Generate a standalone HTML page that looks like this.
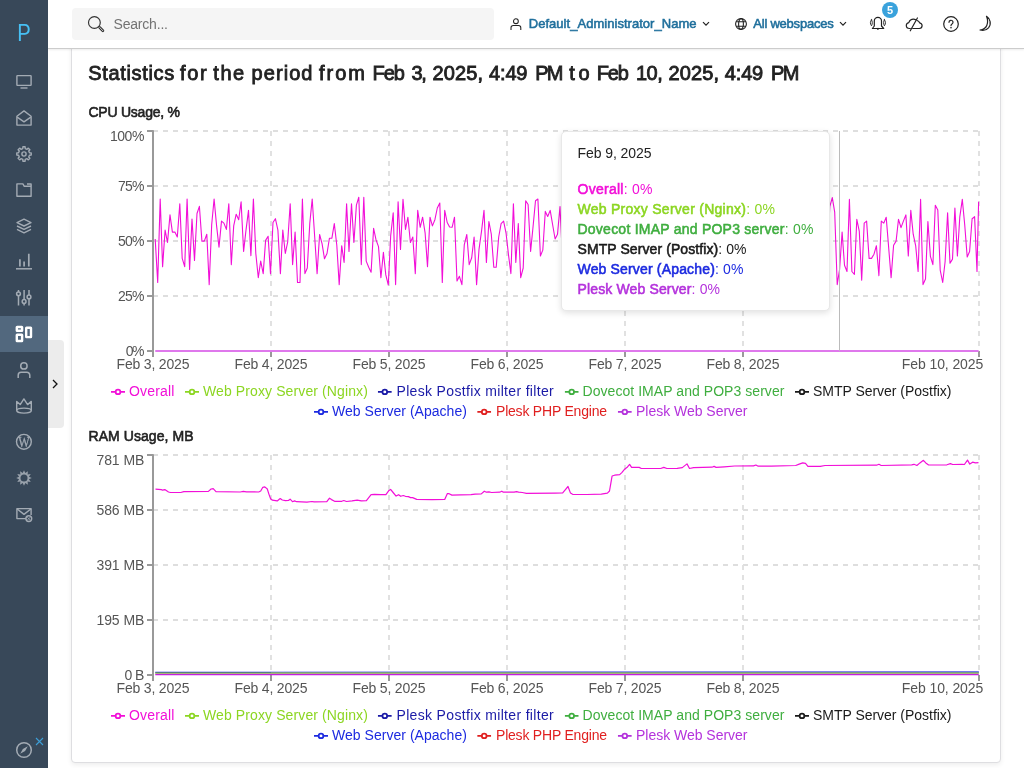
<!DOCTYPE html>
<html lang="en"><head><meta charset="utf-8"><title>Statistics</title>
<style>
html,body{margin:0;padding:0}
body{width:1024px;height:768px;overflow:hidden;background:#fff;position:relative;font-family:"Liberation Sans", sans-serif;}
.t{position:absolute;white-space:nowrap;}
.t b{font-weight:400;-webkit-text-stroke:0.55px currentColor}
.ico{position:absolute;overflow:visible}
.sidebar{position:absolute;left:0;top:0;width:48px;height:768px;background:#384859}
.sb-active{position:absolute;left:0;width:48px;height:36px;background:#52687e}
.logo{position:absolute;left:0;top:18.100px;width:48px;text-align:center;font-size:23px;line-height:30px;color:#47c0f4;font-weight:400;transform:scaleX(.88)}
.toggle{position:absolute;left:48px;top:340px;width:16px;height:88px;background:#ececec;border-radius:0 4px 4px 0}
.header{position:absolute;left:48px;top:0;width:976px;height:48px;background:#fff;border-bottom:1px solid #ccc;box-sizing:content-box;box-shadow:0 1px 2px rgba(0,0,0,.08)}
.search{position:absolute;left:72px;top:8px;width:422px;height:32px;background:#f5f5f5;border-radius:4px}
.card{position:absolute;left:71px;top:40px;width:930px;height:723px;background:#fff;border:1px solid #dedee1;border-radius:4px;box-sizing:border-box;box-shadow:0 2px 5px rgba(0,0,0,.07)}
.charts{position:absolute;left:0;top:0}
.tooltip{position:absolute;left:560.500px;top:130.500px;width:269px;height:180.500px;box-sizing:border-box;background:#fff;border:1px solid #e8e8e8;border-radius:5px;box-shadow:0 2px 6px rgba(0,0,0,.12)}
.badge{position:absolute;left:882px;top:2px;width:16px;height:16px;border-radius:8px;background:#3aa2dc;color:#fff;font-size:11px;font-weight:700;line-height:16px;text-align:center}
</style></head>
<body>
<div class="card"></div>
<svg class="charts" width="1024" height="768" viewBox="0 0 1024 768"><path d="M153 131.00H979M153 186.00H979M153 241.00H979M153 296.00H979M271.00 131.00V351.00M389.00 131.00V351.00M507.00 131.00V351.00M625.00 131.00V351.00M743.00 131.00V351.00M979.00 131.00V351.00" stroke="#dedede" stroke-width="1.8" stroke-dasharray="5 5" fill="none"/>
<path d="M153 130.25V357.00" stroke="#999" stroke-width="2" fill="none"/>
<path d="M147 131.00H153M147 186.00H153M147 241.00H153M147 296.00H153M147 351.00H153M271.00 351.00V357.00M389.00 351.00V357.00M507.00 351.00V357.00M625.00 351.00V357.00M743.00 351.00V357.00M979.00 351.00V357.00" stroke="#999" stroke-width="2" fill="none"/>
<path d="M155.2 239.0L157.7 282.5L160.2 199.0L162.6 266.7L165.1 230.1L167.5 242.5L170.0 214.9L172.4 232.1L174.9 232.1L177.3 237.0L179.8 203.8L182.2 258.4L184.7 266.7L187.1 199.0L189.6 269.4L192.0 219.0L194.5 260.4L197.0 213.5L199.4 206.3L201.9 241.1L204.3 241.1L206.8 234.2L209.2 284.6L211.7 224.5L214.1 199.0L216.6 225.9L219.0 247.3L221.5 221.1L223.9 223.1L226.4 229.4L228.8 203.8L231.3 264.6L233.7 225.9L236.2 214.2L238.7 219.7L241.1 201.7L243.6 251.5L246.0 230.1L248.5 210.4L250.9 255.6L253.4 199.0L255.8 253.5L258.3 277.7L260.7 261.1L263.2 273.6L265.6 240.4L268.1 236.3L270.5 273.6L273.0 222.5L275.4 218.7L277.9 230.1L280.4 273.6L282.8 230.1L285.3 253.5L287.7 241.8L290.2 203.8L292.6 264.6L295.1 232.1L297.5 282.5L300.0 282.5L302.4 199.0L304.9 273.6L307.3 268.0L309.8 223.1L312.2 199.0L314.7 237.0L317.1 273.6L319.6 234.5L322.1 243.9L324.5 258.8L327.0 253.5L329.4 238.3L331.9 238.1L334.3 223.6L336.8 245.2L339.2 284.6L341.7 245.7L344.1 262.5L346.6 203.8L349.0 251.5L351.5 203.8L353.9 242.5L356.4 205.2L358.8 197.2L361.3 264.6L363.8 197.2L366.2 261.1L368.7 267.3L371.1 272.2L373.6 228.4L376.0 239.7L378.5 246.6L380.9 277.7L383.4 252.4L385.8 274.9L388.3 285.0L390.7 235.6L393.2 212.8L395.6 284.6L398.1 201.7L400.5 249.4L403.0 199.4L405.5 229.4L407.9 217.2L410.4 242.5L412.8 237.0L415.3 273.6L417.7 210.4L420.2 227.3L422.6 217.2L425.1 232.8L427.5 266.7L430.0 217.2L432.4 225.9L434.9 219.7L437.3 208.0L439.8 203.1L442.3 282.5L444.7 210.4L447.2 222.5L449.6 227.0L452.1 227.3L454.5 217.2L457.0 280.9L459.4 276.3L461.9 284.6L464.3 244.6L466.8 234.5L469.2 264.6L471.7 257.7L474.1 237.0L476.6 284.6L479.0 249.4L481.5 231.4L484.0 210.4L486.4 262.5L488.9 221.5L491.3 234.2L493.8 267.3L496.2 267.3L498.7 237.0L501.1 223.6L503.6 221.1L506.0 232.8L508.5 254.9L510.9 273.6L513.4 203.8L515.8 262.5L518.3 223.6L520.7 277.7L523.2 268.0L525.7 200.8L528.1 204.5L530.6 251.5L533.0 227.3L535.5 200.8L537.9 199.0L540.4 256.0L542.8 250.1L545.3 211.4L547.7 216.5L550.2 210.4L552.6 224.5L555.1 239.0L557.5 234.2L560.0 206.6L562.4 256.7L564.9 271.6L567.4 228.6L569.8 278.3L572.3 238.5L574.7 253.1L577.2 279.5L579.6 241.0L582.1 281.3L584.5 247.3L587.0 278.5L589.4 276.7L591.9 248.1L594.3 213.6L596.8 273.9L599.2 265.3L601.7 230.7L604.1 203.2L606.6 235.0L609.1 250.5L611.5 200.7L614.0 280.5L616.4 210.8L618.9 259.7L621.3 272.1L623.8 274.4L626.2 258.0L628.7 214.5L631.1 269.0L633.6 234.6L636.0 229.7L638.5 252.5L640.9 237.5L643.4 279.1L645.8 279.4L648.3 266.8L650.8 226.1L653.2 247.8L655.7 257.5L658.1 234.3L660.6 245.6L663.0 258.8L665.5 216.3L667.9 224.5L670.4 263.6L672.8 235.2L675.3 239.4L677.7 209.4L680.2 221.9L682.6 259.8L685.1 200.4L687.6 274.4L690.0 248.6L692.5 219.5L694.9 271.5L697.4 242.5L699.8 281.1L702.3 227.2L704.7 218.9L707.2 235.3L709.6 209.4L712.1 257.6L714.5 224.8L717.0 233.5L719.4 234.7L721.9 245.4L724.3 212.4L726.8 203.4L729.3 243.8L731.7 227.5L734.2 279.3L736.6 224.3L739.1 229.0L741.5 199.3L744.0 214.0L746.4 260.1L748.9 251.4L751.3 227.1L753.8 282.6L756.2 244.9L758.7 270.1L761.1 274.5L763.6 279.4L766.0 218.6L768.5 273.4L771.0 263.3L773.4 251.0L775.9 209.7L778.3 277.6L780.8 246.0L783.2 237.4L785.7 208.7L788.1 214.2L790.6 210.4L793.0 260.6L795.5 248.9L797.9 253.7L800.4 208.6L802.8 202.3L805.3 271.6L807.7 269.4L810.2 264.6L812.7 264.5L815.1 242.9L817.6 234.0L820.0 262.0L822.5 284.1L824.9 248.6L827.4 252.8L829.8 206.6L832.3 197.6L834.7 212.1L837.2 284.6L839.6 269.4L842.1 232.1L844.5 265.3L847.0 271.5L849.4 199.4L851.9 271.5L854.4 274.3L856.8 219.3L859.3 231.4L861.7 280.1L864.2 223.1L866.6 221.1L869.1 258.4L871.5 258.4L874.0 254.2L876.4 245.7L878.9 275.6L881.3 221.1L883.8 223.1L886.2 217.2L888.7 248.0L891.1 277.7L893.6 245.2L896.1 241.1L898.5 219.3L901.0 227.6L903.4 221.1L905.9 214.9L908.3 256.0L910.8 210.4L913.2 234.2L915.7 245.9L918.1 271.5L920.6 199.4L923.0 284.6L925.5 279.1L927.9 221.5L930.4 256.3L932.9 264.6L935.3 205.2L937.8 210.0L940.2 270.1L942.7 282.5L945.1 261.8L947.6 212.8L950.0 263.2L952.5 259.1L954.9 208.0L957.4 256.0L959.8 216.9L962.3 199.4L964.7 224.5L967.2 257.0L969.6 251.5L972.1 218.7L974.6 216.7L977.0 271.5L978.6 201.7" stroke="#f20fd8" stroke-width="1.1" fill="none" stroke-linejoin="round"/>
<path d="M155.25 351H978.6" stroke="#df78ec" stroke-width="2" fill="none"/>
<path d="M839.5 131V351" stroke="#bbb" stroke-width="1" fill="none"/>
<path d="M153 455.00H979M153 510.00H979M153 565.00H979M153 620.00H979M271.00 455.00V675.00M389.00 455.00V675.00M507.00 455.00V675.00M625.00 455.00V675.00M743.00 455.00V675.00M979.00 455.00V675.00" stroke="#dedede" stroke-width="1.8" stroke-dasharray="5 5" fill="none"/>
<path d="M153 454.25V681.00" stroke="#999" stroke-width="2" fill="none"/>
<path d="M147 455.00H153M147 510.00H153M147 565.00H153M147 620.00H153M147 675.00H153M271.00 675.00V681.00M389.00 675.00V681.00M507.00 675.00V681.00M625.00 675.00V681.00M743.00 675.00V681.00M979.00 675.00V681.00" stroke="#999" stroke-width="2" fill="none"/>
<path d="M155.5 489.2L161.3 489.6L162.7 490.2L164.8 489.6L168.5 492.0L170.5 492.5L180.8 492.5L183.8 491.6L208.4 491.4L211.1 489.0L213.2 488.6L216.0 491.6L240.2 492.0L243.3 491.4L246.4 491.8L258.7 492.0L260.7 491.0L262.8 487.3L264.8 486.9L267.3 489.0L268.9 494.1L270.6 498.8L272.4 500.2L277.2 500.9L280.2 498.6L282.3 500.0L285.4 500.7L288.4 500.5L290.1 499.2L292.5 501.7L294.6 500.9L296.6 501.7L306.9 502.1L312.0 501.5L314.1 501.9L326.8 501.7L329.5 498.2L331.5 499.6L334.6 501.3L341.8 501.3L343.8 500.5L346.5 501.5L352.0 500.9L357.2 500.2L361.3 500.9L366.4 500.7L371.1 494.7L374.6 494.3L380.8 494.7L385.9 494.7L389.0 490.4L390.6 489.4L393.1 492.5L396.1 496.1L398.6 494.7L400.7 496.3L403.3 495.5L405.4 496.3L408.4 496.6L410.5 497.6L412.6 497.6L416.7 499.4L432.0 499.6L444.7 499.4L447.4 493.5L449.1 493.7L451.9 495.1L460.7 494.9L471.0 494.7L475.1 494.1L481.3 493.9L484.3 491.2L486.4 492.2L489.0 491.8L491.5 492.5L499.7 492.2L501.8 491.2L503.4 492.2L514.1 492.2L516.5 491.6L518.6 492.2L522.3 492.5L526.4 493.3L555.1 493.1L562.7 492.9L565.4 489.6L568.0 486.5L570.5 493.1L572.6 494.3L586.9 494.5L601.3 494.1L607.4 493.1L609.5 491.0L610.9 482.8L612.1 476.0L614.6 475.2L619.7 474.6L621.8 472.6L624.9 468.9L626.9 467.6L629.6 464.4L631.6 467.4L639.2 467.4L641.3 468.5L660.7 468.5L663.8 467.4L666.9 468.5L677.2 468.3L682.3 467.6L687.0 463.9L689.5 468.5L693.6 467.6L712.0 467.2L714.1 466.4L716.1 467.4L724.3 466.8L734.6 466.0L753.0 465.8L753.5 465.9L755.9 465.0L758.2 466.2L771.1 466.2L795.7 465.5L799.2 464.1L802.7 462.9L805.5 463.4L807.9 466.4L820.3 466.4L825.0 465.5L876.6 465.2L878.9 464.3L881.2 465.5L911.7 464.8L914.0 464.3L916.9 465.5L919.9 462.9L923.4 460.3L925.8 462.9L928.6 465.0L946.9 464.8L950.4 463.6L952.7 464.5L962.1 464.3L964.4 464.5L967.5 460.1L969.8 464.1L972.6 462.2L975.5 462.9L978.5 462.7" stroke="#f20fd8" stroke-width="1.2" fill="none" stroke-linejoin="round"/>
<path d="M155.25 672.4H978.8" stroke="#2020e8" stroke-width="1.2" fill="none"/>
<path d="M271 671.9L978.8 670.9V672.7H271Z" fill="#7676ee"/>
<path d="M155.25 673.15H978.8" stroke="#84e01e" stroke-width="1.1" fill="none"/>
<path d="M155.25 674.45H978.8" stroke="#c21ee0" stroke-width="1.5" fill="none"/>
<svg x="111.00" y="384.90" width="14" height="14" viewBox="0 0 32 32"><path stroke-width="4" fill="none" stroke="#f20fd8" d="M0,16h10.666666666666666A5.333333333333333,5.333333333333333,0,1,1,21.333333333333332,16H32M21.333333333333332,16A5.333333333333333,5.333333333333333,0,1,1,10.666666666666666,16"/></svg>
<svg x="185.00" y="384.90" width="14" height="14" viewBox="0 0 32 32"><path stroke-width="4" fill="none" stroke="#8cd622" d="M0,16h10.666666666666666A5.333333333333333,5.333333333333333,0,1,1,21.333333333333332,16H32M21.333333333333332,16A5.333333333333333,5.333333333333333,0,1,1,10.666666666666666,16"/></svg>
<svg x="377.80" y="384.90" width="14" height="14" viewBox="0 0 32 32"><path stroke-width="4" fill="none" stroke="#1a1aa6" d="M0,16h10.666666666666666A5.333333333333333,5.333333333333333,0,1,1,21.333333333333332,16H32M21.333333333333332,16A5.333333333333333,5.333333333333333,0,1,1,10.666666666666666,16"/></svg>
<svg x="564.70" y="384.90" width="14" height="14" viewBox="0 0 32 32"><path stroke-width="4" fill="none" stroke="#3fae3f" d="M0,16h10.666666666666666A5.333333333333333,5.333333333333333,0,1,1,21.333333333333332,16H32M21.333333333333332,16A5.333333333333333,5.333333333333333,0,1,1,10.666666666666666,16"/></svg>
<svg x="795.00" y="384.90" width="14" height="14" viewBox="0 0 32 32"><path stroke-width="4" fill="none" stroke="#1a1a1a" d="M0,16h10.666666666666666A5.333333333333333,5.333333333333333,0,1,1,21.333333333333332,16H32M21.333333333333332,16A5.333333333333333,5.333333333333333,0,1,1,10.666666666666666,16"/></svg>
<svg x="314.00" y="404.90" width="14" height="14" viewBox="0 0 32 32"><path stroke-width="4" fill="none" stroke="#1c2ae0" d="M0,16h10.666666666666666A5.333333333333333,5.333333333333333,0,1,1,21.333333333333332,16H32M21.333333333333332,16A5.333333333333333,5.333333333333333,0,1,1,10.666666666666666,16"/></svg>
<svg x="477.20" y="404.90" width="14" height="14" viewBox="0 0 32 32"><path stroke-width="4" fill="none" stroke="#e01f1f" d="M0,16h10.666666666666666A5.333333333333333,5.333333333333333,0,1,1,21.333333333333332,16H32M21.333333333333332,16A5.333333333333333,5.333333333333333,0,1,1,10.666666666666666,16"/></svg>
<svg x="617.80" y="404.90" width="14" height="14" viewBox="0 0 32 32"><path stroke-width="4" fill="none" stroke="#b432dc" d="M0,16h10.666666666666666A5.333333333333333,5.333333333333333,0,1,1,21.333333333333332,16H32M21.333333333333332,16A5.333333333333333,5.333333333333333,0,1,1,10.666666666666666,16"/></svg>
<svg x="111.00" y="708.90" width="14" height="14" viewBox="0 0 32 32"><path stroke-width="4" fill="none" stroke="#f20fd8" d="M0,16h10.666666666666666A5.333333333333333,5.333333333333333,0,1,1,21.333333333333332,16H32M21.333333333333332,16A5.333333333333333,5.333333333333333,0,1,1,10.666666666666666,16"/></svg>
<svg x="185.00" y="708.90" width="14" height="14" viewBox="0 0 32 32"><path stroke-width="4" fill="none" stroke="#8cd622" d="M0,16h10.666666666666666A5.333333333333333,5.333333333333333,0,1,1,21.333333333333332,16H32M21.333333333333332,16A5.333333333333333,5.333333333333333,0,1,1,10.666666666666666,16"/></svg>
<svg x="377.80" y="708.90" width="14" height="14" viewBox="0 0 32 32"><path stroke-width="4" fill="none" stroke="#1a1aa6" d="M0,16h10.666666666666666A5.333333333333333,5.333333333333333,0,1,1,21.333333333333332,16H32M21.333333333333332,16A5.333333333333333,5.333333333333333,0,1,1,10.666666666666666,16"/></svg>
<svg x="564.70" y="708.90" width="14" height="14" viewBox="0 0 32 32"><path stroke-width="4" fill="none" stroke="#3fae3f" d="M0,16h10.666666666666666A5.333333333333333,5.333333333333333,0,1,1,21.333333333333332,16H32M21.333333333333332,16A5.333333333333333,5.333333333333333,0,1,1,10.666666666666666,16"/></svg>
<svg x="795.00" y="708.90" width="14" height="14" viewBox="0 0 32 32"><path stroke-width="4" fill="none" stroke="#1a1a1a" d="M0,16h10.666666666666666A5.333333333333333,5.333333333333333,0,1,1,21.333333333333332,16H32M21.333333333333332,16A5.333333333333333,5.333333333333333,0,1,1,10.666666666666666,16"/></svg>
<svg x="314.00" y="728.90" width="14" height="14" viewBox="0 0 32 32"><path stroke-width="4" fill="none" stroke="#1c2ae0" d="M0,16h10.666666666666666A5.333333333333333,5.333333333333333,0,1,1,21.333333333333332,16H32M21.333333333333332,16A5.333333333333333,5.333333333333333,0,1,1,10.666666666666666,16"/></svg>
<svg x="477.20" y="728.90" width="14" height="14" viewBox="0 0 32 32"><path stroke-width="4" fill="none" stroke="#e01f1f" d="M0,16h10.666666666666666A5.333333333333333,5.333333333333333,0,1,1,21.333333333333332,16H32M21.333333333333332,16A5.333333333333333,5.333333333333333,0,1,1,10.666666666666666,16"/></svg>
<svg x="617.80" y="728.90" width="14" height="14" viewBox="0 0 32 32"><path stroke-width="4" fill="none" stroke="#b432dc" d="M0,16h10.666666666666666A5.333333333333333,5.333333333333333,0,1,1,21.333333333333332,16H32M21.333333333333332,16A5.333333333333333,5.333333333333333,0,1,1,10.666666666666666,16"/></svg></svg>
<div class="tooltip"></div>
<div class="header"></div>
<div class="search"></div>

<svg class="ico" style="left:86px;top:15px" width="20" height="18" viewBox="0 0 20 18" fill="none" stroke="#333" stroke-width="1.3"><circle cx="8.400" cy="7.500" r="5.900" stroke-width="1.150"/><path d="M13.700 12.500l3.200 3.300" stroke-width="2.700" stroke-linecap="round"/><path d="M13.700 12.500l3.200 3.300" stroke="#f5f5f5" stroke-width=".800" stroke-linecap="round"/></svg>
<svg class="ico" style="left:510px;top:17.500px" width="12" height="12" viewBox="0 0 12 12" fill="none" stroke="#222" stroke-width="1.050"><circle cx="5.900" cy="3.200" r="2.400"/><path d="M1 12v-2.200a2.300 2.300 0 0 1 2.300-2.300h5.200a2.300 2.300 0 0 1 2.300 2.300V12"/></svg>
<svg class="ico" style="left:702px;top:21px" width="8" height="6" viewBox="0 0 8 6" fill="none" stroke="#222" stroke-width="1.200"><path d="M1 1.200l3 3 3-3"/></svg>
<svg class="ico" style="left:734.700px;top:17.700px" width="12" height="12" viewBox="0 0 12 12" fill="none" stroke="#222" stroke-width="1.100"><circle cx="6" cy="6" r="5.400"/><ellipse cx="6" cy="6" rx="2.400" ry="5.400"/><path d="M1.300 3.800h9.400M1.300 8.200h9.400"/></svg>
<svg class="ico" style="left:839px;top:21px" width="8" height="6" viewBox="0 0 8 6" fill="none" stroke="#222" stroke-width="1.200"><path d="M1 1.200l3 3 3-3"/></svg>
<svg class="ico" style="left:870px;top:16px" width="16" height="16" viewBox="0 0 16 16" fill="none" stroke="#222" stroke-width="1.200" stroke-linecap="round"><path d="M2.400 12.500L4.300 10V5a3.600 3.600 0 0 1 7.200 0v5l2.200 2.500z" stroke-linejoin="round"/><path d="M6.900 12.700l1 1.100 1-1.100z" fill="#222" stroke-width=".6"/><path d="M1.500 3.700C0 5.700 0 7.800 1.500 9.800 2.600 7.800 2.600 5.700 1.500 3.700zM14.400 3.700c1.500 2 1.500 4.100 0 6.100-1.100-2-1.100-4.100 0-6.100z" stroke-width=".9" stroke-linejoin="round"/></svg>
<svg class="ico" style="left:906px;top:16px" width="17" height="16" viewBox="0 0 17 16" fill="none" stroke="#222" stroke-width="1.200" stroke-linecap="round" stroke-linejoin="round"><path d="M4.300 12.500H3.500C1.600 12.500.3 11.200.3 9.600.3 8 1.400 6.900 2.800 6.600 3.600 4.600 5.400 3.200 7.400 3.200c.9 0 1.700.2 2.400.6M11.100 4.500c1.200.5 2.100 1.300 2.500 2.300 1.600.4 2.500 1.500 2.500 2.800 0 1.600-1.300 2.900-2.800 2.900H6.700"/><path d="M11.400 2L4.300 14.800"/></svg>
<svg class="ico" style="left:942.500px;top:16px" width="16" height="16" viewBox="0 0 16 16" fill="none" stroke="#222" stroke-width="1.200"><circle cx="8" cy="8" r="7.300"/><path d="M6 6.300a2 2 0 1 1 3 1.700c-.700.400-1 .800-1 1.600" stroke-linecap="round"/><circle cx="8" cy="11.700" r=".5" fill="#222" stroke-width=".6"/></svg>
<svg class="ico" style="left:978px;top:15px" width="16" height="17" viewBox="0 0 16 17" fill="none" stroke="#222" stroke-width="1.200" stroke-linejoin="round"><path d="M8.500 1.300c3.500 2.300 5.300 7.500 2 11.500-2 2.300-5.500 3-8.500 2.200 2.800-.3 5.500-1.500 6.800-4.500 1.200-2.800.9-6.200-.3-9.200z"/></svg>

<div class="badge">5</div>
<div class="sidebar">
<div class="logo">P</div>
<svg class="ico" style="left:16px;top:74px" width="16" height="16" viewBox="0 0 16 16" fill="none" stroke="#a3abb4" stroke-width="1.4" stroke-linejoin="round"><rect x="0.9" y="1.6" width="14.2" height="9.8" rx="0.6"/><path d="M4.5 14h7"/></svg>
<svg class="ico" style="left:16px;top:110px" width="16" height="16" viewBox="0 0 16 16" fill="none" stroke="#a3abb4" stroke-width="1.4" stroke-linejoin="round"><path d="M0.9 6.2L8 0.9l7.1 5.3v8.9H0.9z"/><path d="M1.2 7.2L8 11.8l6.8-4.6"/></svg>
<svg class="ico" style="left:16px;top:146px" width="16" height="16" viewBox="0 0 16 16" fill="none" stroke="#a3abb4" stroke-width="1.4" stroke-linejoin="round"><path d="M6.80 2.53L6.90 0.78L9.10 0.78L9.20 2.53L11.02 3.28L12.33 2.12L13.88 3.67L12.72 4.98L13.47 6.80L15.22 6.90L15.22 9.10L13.47 9.20L12.72 11.02L13.88 12.33L12.33 13.88L11.02 12.72L9.20 13.47L9.10 15.22L6.90 15.22L6.80 13.47L4.98 12.72L3.67 13.88L2.12 12.33L3.28 11.02L2.53 9.20L0.78 9.10L0.78 6.90L2.53 6.80L3.28 4.98L2.12 3.67L3.67 2.12L4.98 3.28Z"/><circle cx="8" cy="8" r="2.1"/></svg>
<svg class="ico" style="left:16px;top:182px" width="16" height="16" viewBox="0 0 16 16" fill="none" stroke="#a3abb4" stroke-width="1.4" stroke-linejoin="round"><path d="M0.9 1.9h6l1.4 2.4h6.8v10H0.9z"/><path d="M11 2h4.1v2.3" /></svg>
<svg class="ico" style="left:16px;top:218px" width="16" height="16" viewBox="0 0 16 16" fill="none" stroke="#a3abb4" stroke-width="1.4" stroke-linejoin="round"><path d="M8 1.2l7 3.4-7 3.4-7-3.4z"/><path d="M1 8l7 3.4L15 8M1 11.4l7 3.4 7-3.4"/></svg>
<svg class="ico" style="left:16px;top:254px" width="16" height="16" viewBox="0 0 16 16" fill="none" stroke="#a3abb4" stroke-width="1.4" stroke-linejoin="round"><path d="M0 14.8h16" stroke-width="1.5"/><path d="M3.9 5.200v7.300M8.100 7.500v5M12.800 -0.200v12.700" stroke-width="1.700"/></svg>
<svg class="ico" style="left:16px;top:290px" width="16" height="16" viewBox="0 0 16 16" fill="none" stroke="#a3abb4" stroke-width="1.4" stroke-linejoin="round"><g stroke-width="1.500"><path d="M2.500 0v2M2.500 5.600v10M8.100 0v9.700M8.100 13.300v2.300M13 0v5.100M13 8.700v6.900"/><circle cx="2.500" cy="3.800" r="1.900"/><circle cx="8.100" cy="11.500" r="1.900"/><circle cx="13" cy="6.900" r="1.900"/></g></svg>
<div class="sb-active" style="top:316px"></div>
<svg class="ico" style="left:16px;top:326px" width="16" height="16" viewBox="0 0 16 16" fill="none" stroke="#fff" stroke-width="2.400"><rect x="0.800" y="1" width="5.300" height="3.800" rx=".3"/><rect x="0.800" y="8.800" width="5.300" height="6.200" rx=".3"/><rect x="10.200" y="1.800" width="4.800" height="9.300" rx=".3"/></svg>
<svg class="ico" style="left:16px;top:362px" width="16" height="16" viewBox="0 0 16 16" fill="none" stroke="#a3abb4" stroke-width="1.4" stroke-linejoin="round"><g stroke-width="1.500"><circle cx="7.900" cy="3.900" r="3.200"/><path d="M2.200 16v-2.800a2.900 2.900 0 0 1 2.900-2.900h5.800a2.900 2.900 0 0 1 2.900 2.900V16"/></g></svg>
<svg class="ico" style="left:16px;top:398px" width="16" height="16" viewBox="0 0 16 16" fill="none" stroke="#a3abb4" stroke-width="1.4" stroke-linejoin="round"><g stroke-width="1.400"><path d="M0.700 12.600V3.400L4.200 6.600 7.900 0.900l3.700 5.700 3.700-3.200v9.200"/><ellipse cx="8" cy="12.600" rx="7.300" ry="2.500"/></g></svg>
<svg class="ico" style="left:16px;top:434px" width="16" height="16" viewBox="0 0 16 16" fill="none" stroke="#a3abb4" stroke-width="1.4" stroke-linejoin="round"><circle cx="7.900" cy="7.800" r="7.400"/><text x="0" y="12.600" transform="translate(7.900 0) scale(.84 1)" text-anchor="middle" font-family="Liberation Serif, serif" font-size="14.500" stroke-width="0.300" fill="#a3abb4">W</text></svg>
<svg class="ico" style="left:16px;top:470px" width="16" height="16" viewBox="0 0 16 16" fill="none" stroke="#a3abb4" stroke-width="1.4" stroke-linejoin="round"><path d="M8.00 0.20L9.32 3.07L11.90 1.25L11.61 4.39L14.75 4.10L12.93 6.68L15.80 8.00L12.93 9.32L14.75 11.90L11.61 11.61L11.90 14.75L9.32 12.93L8.00 15.80L6.68 12.93L4.10 14.75L4.39 11.61L1.25 11.90L3.07 9.32L0.20 8.00L3.07 6.68L1.25 4.10L4.39 4.39L4.10 1.25L6.68 3.07Z" fill="#a3abb4" stroke="none" opacity="0.9"/><circle cx="8" cy="8" r="3.500" fill="#384859" stroke="none"/></svg>
<svg class="ico" style="left:16px;top:506px" width="16" height="16" viewBox="0 0 16 16" fill="none" stroke="#a3abb4" stroke-width="1.4" stroke-linejoin="round"><path d="M10 12.6H0.9V2.6h14.2v6.5"/><path d="M1.2 3l6.8 5.4L14.800 3"/><circle cx="12.8" cy="12.6" r="2.9" fill="#384859"/><path d="M11.3 14.1l3-3M11.3 11.100l3 3" stroke-width="0.8"/></svg>
<svg class="ico" style="left:16px;top:742px" width="16" height="16" viewBox="0 0 16 16" fill="none" stroke="#a3abb4" stroke-width="1.500"><circle cx="8" cy="8" r="7.300"/><path d="M11.800 4.200L9.100 9.100 4.200 11.800 6.900 6.900z" fill="#a3abb4" stroke="none"/></svg>
<svg class="ico" style="left:35px;top:737px" width="9" height="9" viewBox="0 0 9 9" fill="none" stroke="#3d9fd8" stroke-width="1.1"><path d="M1 1l7 7M8 1l-7 7"/></svg>
</div>
<div class="toggle"></div>
<svg class="ico" style="left:51px;top:379px" width="8" height="10" viewBox="0 0 8 10" fill="none" stroke="#111" stroke-width="1.300"><path d="M2 1l4 4-4 4"/></svg>
<span class="t" style="left:113.50px;top:14.15px;font-size:14px;line-height:20px;font-weight:400;color:#737373;letter-spacing:-0.191px">Search...</span>
<span class="t" style="left:528.75px;top:14.00px;font-size:13px;line-height:20px;font-weight:400;color:#1f6f9c;letter-spacing:0.034px;-webkit-text-stroke:0.55px #1f6f9c">Default_Administrator_Name</span>
<span class="t" style="left:753.30px;top:14.00px;font-size:13px;line-height:20px;font-weight:400;color:#1f6f9c;letter-spacing:-0.226px;-webkit-text-stroke:0.55px #1f6f9c">All webspaces</span>
<span class="t" style="left:88.25px;top:59.07px;font-size:20px;line-height:28px;font-weight:400;color:#222;letter-spacing:0.663px;-webkit-text-stroke:0.84px #222">Statistics </span>
<span class="t" style="left:180.00px;top:59.07px;font-size:20px;line-height:28px;font-weight:400;color:#222;letter-spacing:1.703px;-webkit-text-stroke:0.84px #222">for </span>
<span class="t" style="left:213.25px;top:59.07px;font-size:20px;line-height:28px;font-weight:400;color:#222;letter-spacing:1.594px;-webkit-text-stroke:0.84px #222">the </span>
<span class="t" style="left:251.50px;top:59.07px;font-size:20px;line-height:28px;font-weight:400;color:#222;letter-spacing:1.078px;-webkit-text-stroke:0.84px #222">period </span>
<span class="t" style="left:319.00px;top:59.07px;font-size:20px;line-height:28px;font-weight:400;color:#222;letter-spacing:2.000px;-webkit-text-stroke:0.84px #222">from </span>
<span class="t" style="left:372.50px;top:59.07px;font-size:20px;line-height:28px;font-weight:400;color:#222;letter-spacing:-0.984px;-webkit-text-stroke:0.84px #222">Feb </span>
<span class="t" style="left:411.50px;top:59.07px;font-size:20px;line-height:28px;font-weight:400;color:#222;letter-spacing:-1.438px;-webkit-text-stroke:0.84px #222">3, </span>
<span class="t" style="left:432.50px;top:59.07px;font-size:20px;line-height:28px;font-weight:400;color:#222;letter-spacing:0.109px;-webkit-text-stroke:0.84px #222">2025, </span>
<span class="t" style="left:489.00px;top:59.07px;font-size:20px;line-height:28px;font-weight:400;color:#222;letter-spacing:-0.146px;-webkit-text-stroke:0.84px #222">4:49 </span>
<span class="t" style="left:535.25px;top:59.07px;font-size:20px;line-height:28px;font-weight:400;color:#222;letter-spacing:-1.750px;-webkit-text-stroke:0.84px #222">PM </span>
<span class="t" style="left:569.25px;top:59.07px;font-size:20px;line-height:28px;font-weight:400;color:#222;letter-spacing:3.812px;-webkit-text-stroke:0.84px #222">to </span>
<span class="t" style="left:596.75px;top:59.07px;font-size:20px;line-height:28px;font-weight:400;color:#222;letter-spacing:-1.109px;-webkit-text-stroke:0.84px #222">Feb </span>
<span class="t" style="left:636.00px;top:59.07px;font-size:20px;line-height:28px;font-weight:400;color:#222;letter-spacing:-0.531px;-webkit-text-stroke:0.84px #222">10, </span>
<span class="t" style="left:668.50px;top:59.07px;font-size:20px;line-height:28px;font-weight:400;color:#222;letter-spacing:0.109px;-webkit-text-stroke:0.84px #222">2025, </span>
<span class="t" style="left:724.75px;top:59.07px;font-size:20px;line-height:28px;font-weight:400;color:#222;letter-spacing:-0.146px;-webkit-text-stroke:0.84px #222">4:49 </span>
<span class="t" style="left:771.00px;top:59.07px;font-size:20px;line-height:28px;font-weight:400;color:#222;letter-spacing:-1.500px;-webkit-text-stroke:0.84px #222">PM </span>
<span class="t" style="left:88.50px;top:102.15px;font-size:14px;line-height:20px;font-weight:400;color:#222;letter-spacing:-0.241px;-webkit-text-stroke:0.59px #222">CPU Usage, %</span>
<span class="t" style="left:88.50px;top:426.15px;font-size:14px;line-height:20px;font-weight:400;color:#222;letter-spacing:0.062px;-webkit-text-stroke:0.59px #222">RAM Usage, MB</span>
<span class="t" style="left:129.00px;top:380.85px;font-size:14px;line-height:20px;font-weight:400;color:#f20fd8;letter-spacing:0.173px">Overall</span>
<span class="t" style="left:203.00px;top:380.85px;font-size:14px;line-height:20px;font-weight:400;color:#8cd622;letter-spacing:0.107px">Web Proxy Server (Nginx)</span>
<span class="t" style="left:396.50px;top:380.85px;font-size:14px;line-height:20px;font-weight:400;color:#1a1aa6;letter-spacing:0.333px">Plesk Postfix milter filter</span>
<span class="t" style="left:582.50px;top:380.85px;font-size:14px;line-height:20px;font-weight:400;color:#3fae3f;letter-spacing:0.052px">Dovecot IMAP and POP3 server</span>
<span class="t" style="left:813.00px;top:380.85px;font-size:14px;line-height:20px;font-weight:400;color:#1a1a1a;letter-spacing:-0.025px">SMTP Server (Postfix)</span>
<span class="t" style="left:332.00px;top:400.85px;font-size:14px;line-height:20px;font-weight:400;color:#1c2ae0;letter-spacing:0.030px">Web Server (Apache)</span>
<span class="t" style="left:496.00px;top:400.85px;font-size:14px;line-height:20px;font-weight:400;color:#e01f1f;letter-spacing:-0.209px">Plesk PHP Engine</span>
<span class="t" style="left:636.00px;top:400.85px;font-size:14px;line-height:20px;font-weight:400;color:#b432dc;letter-spacing:-0.019px">Plesk Web Server</span>
<span class="t" style="left:129.00px;top:704.85px;font-size:14px;line-height:20px;font-weight:400;color:#f20fd8;letter-spacing:0.173px">Overall</span>
<span class="t" style="left:203.00px;top:704.85px;font-size:14px;line-height:20px;font-weight:400;color:#8cd622;letter-spacing:0.107px">Web Proxy Server (Nginx)</span>
<span class="t" style="left:396.50px;top:704.85px;font-size:14px;line-height:20px;font-weight:400;color:#1a1aa6;letter-spacing:0.333px">Plesk Postfix milter filter</span>
<span class="t" style="left:582.50px;top:704.85px;font-size:14px;line-height:20px;font-weight:400;color:#3fae3f;letter-spacing:0.052px">Dovecot IMAP and POP3 server</span>
<span class="t" style="left:813.00px;top:704.85px;font-size:14px;line-height:20px;font-weight:400;color:#1a1a1a;letter-spacing:-0.025px">SMTP Server (Postfix)</span>
<span class="t" style="left:332.00px;top:724.85px;font-size:14px;line-height:20px;font-weight:400;color:#1c2ae0;letter-spacing:0.030px">Web Server (Apache)</span>
<span class="t" style="left:496.00px;top:724.85px;font-size:14px;line-height:20px;font-weight:400;color:#e01f1f;letter-spacing:-0.209px">Plesk PHP Engine</span>
<span class="t" style="left:636.00px;top:724.85px;font-size:14px;line-height:20px;font-weight:400;color:#b432dc;letter-spacing:-0.019px">Plesk Web Server</span>
<span class="t" style="left:577.50px;top:142.95px;font-size:14px;line-height:20px;font-weight:400;color:#222;letter-spacing:-0.073px">Feb 9, 2025</span>
<span class="t" style="left:577.50px;top:178.90px;font-size:14px;line-height:20px;font-weight:400;color:#f20fd8;letter-spacing:0.263px"><b>Overall</b>: 0%</span>
<span class="t" style="left:577.50px;top:198.90px;font-size:14px;line-height:20px;font-weight:400;color:#8cd622;letter-spacing:0.264px"><b>Web Proxy Server (Nginx)</b>: 0%</span>
<span class="t" style="left:577.50px;top:218.90px;font-size:14px;line-height:20px;font-weight:400;color:#3fae3f;letter-spacing:0.238px"><b>Dovecot IMAP and POP3 server</b>: 0%</span>
<span class="t" style="left:577.50px;top:238.90px;font-size:14px;line-height:20px;font-weight:400;color:#1a1a1a;letter-spacing:0.083px"><b>SMTP Server (Postfix)</b>: 0%</span>
<span class="t" style="left:577.50px;top:258.90px;font-size:14px;line-height:20px;font-weight:400;color:#1c2ae0;letter-spacing:0.165px"><b>Web Server (Apache)</b>: 0%</span>
<span class="t" style="left:577.50px;top:278.90px;font-size:14px;line-height:20px;font-weight:400;color:#b432dc;letter-spacing:0.142px"><b>Plesk Web Server</b>: 0%</span>
<span class="t" style="left:109.90px;top:126.15px;font-size:14px;line-height:20px;font-weight:400;color:#555;letter-spacing:-0.438px">100%</span>
<span class="t" style="left:118.10px;top:175.65px;font-size:14px;line-height:20px;font-weight:400;color:#555;letter-spacing:-0.866px">75%</span>
<span class="t" style="left:118.10px;top:230.65px;font-size:14px;line-height:20px;font-weight:400;color:#555;letter-spacing:-0.866px">50%</span>
<span class="t" style="left:118.10px;top:285.65px;font-size:14px;line-height:20px;font-weight:400;color:#555;letter-spacing:-0.866px">25%</span>
<span class="t" style="left:125.70px;top:340.65px;font-size:14px;line-height:20px;font-weight:400;color:#555;letter-spacing:-1.534px">0%</span>
<span class="t" style="left:96.40px;top:450.15px;font-size:14px;line-height:20px;font-weight:400;color:#555;letter-spacing:-0.050px">781 MB</span>
<span class="t" style="left:96.40px;top:499.65px;font-size:14px;line-height:20px;font-weight:400;color:#555;letter-spacing:-0.050px">586 MB</span>
<span class="t" style="left:96.40px;top:554.65px;font-size:14px;line-height:20px;font-weight:400;color:#555;letter-spacing:-0.050px">391 MB</span>
<span class="t" style="left:96.40px;top:609.65px;font-size:14px;line-height:20px;font-weight:400;color:#555;letter-spacing:-0.050px">195 MB</span>
<span class="t" style="left:124.40px;top:664.65px;font-size:14px;line-height:20px;font-weight:400;color:#555;letter-spacing:-0.508px">0 B</span>
<span class="t" style="left:116.50px;top:353.65px;font-size:14px;line-height:20px;font-weight:400;color:#555;letter-spacing:-0.173px">Feb 3, 2025</span>
<span class="t" style="left:234.50px;top:353.65px;font-size:14px;line-height:20px;font-weight:400;color:#555;letter-spacing:-0.173px">Feb 4, 2025</span>
<span class="t" style="left:352.50px;top:353.65px;font-size:14px;line-height:20px;font-weight:400;color:#555;letter-spacing:-0.173px">Feb 5, 2025</span>
<span class="t" style="left:470.50px;top:353.65px;font-size:14px;line-height:20px;font-weight:400;color:#555;letter-spacing:-0.173px">Feb 6, 2025</span>
<span class="t" style="left:588.50px;top:353.65px;font-size:14px;line-height:20px;font-weight:400;color:#555;letter-spacing:-0.173px">Feb 7, 2025</span>
<span class="t" style="left:706.50px;top:353.65px;font-size:14px;line-height:20px;font-weight:400;color:#555;letter-spacing:-0.173px">Feb 8, 2025</span>
<span class="t" style="left:901.80px;top:353.65px;font-size:14px;line-height:20px;font-weight:400;color:#555;letter-spacing:-0.092px">Feb 10, 2025</span>
<span class="t" style="left:116.50px;top:677.65px;font-size:14px;line-height:20px;font-weight:400;color:#555;letter-spacing:-0.173px">Feb 3, 2025</span>
<span class="t" style="left:234.50px;top:677.65px;font-size:14px;line-height:20px;font-weight:400;color:#555;letter-spacing:-0.173px">Feb 4, 2025</span>
<span class="t" style="left:352.50px;top:677.65px;font-size:14px;line-height:20px;font-weight:400;color:#555;letter-spacing:-0.173px">Feb 5, 2025</span>
<span class="t" style="left:470.50px;top:677.65px;font-size:14px;line-height:20px;font-weight:400;color:#555;letter-spacing:-0.173px">Feb 6, 2025</span>
<span class="t" style="left:588.50px;top:677.65px;font-size:14px;line-height:20px;font-weight:400;color:#555;letter-spacing:-0.173px">Feb 7, 2025</span>
<span class="t" style="left:706.50px;top:677.65px;font-size:14px;line-height:20px;font-weight:400;color:#555;letter-spacing:-0.173px">Feb 8, 2025</span>
<span class="t" style="left:901.80px;top:677.65px;font-size:14px;line-height:20px;font-weight:400;color:#555;letter-spacing:-0.092px">Feb 10, 2025</span>
</body></html>
